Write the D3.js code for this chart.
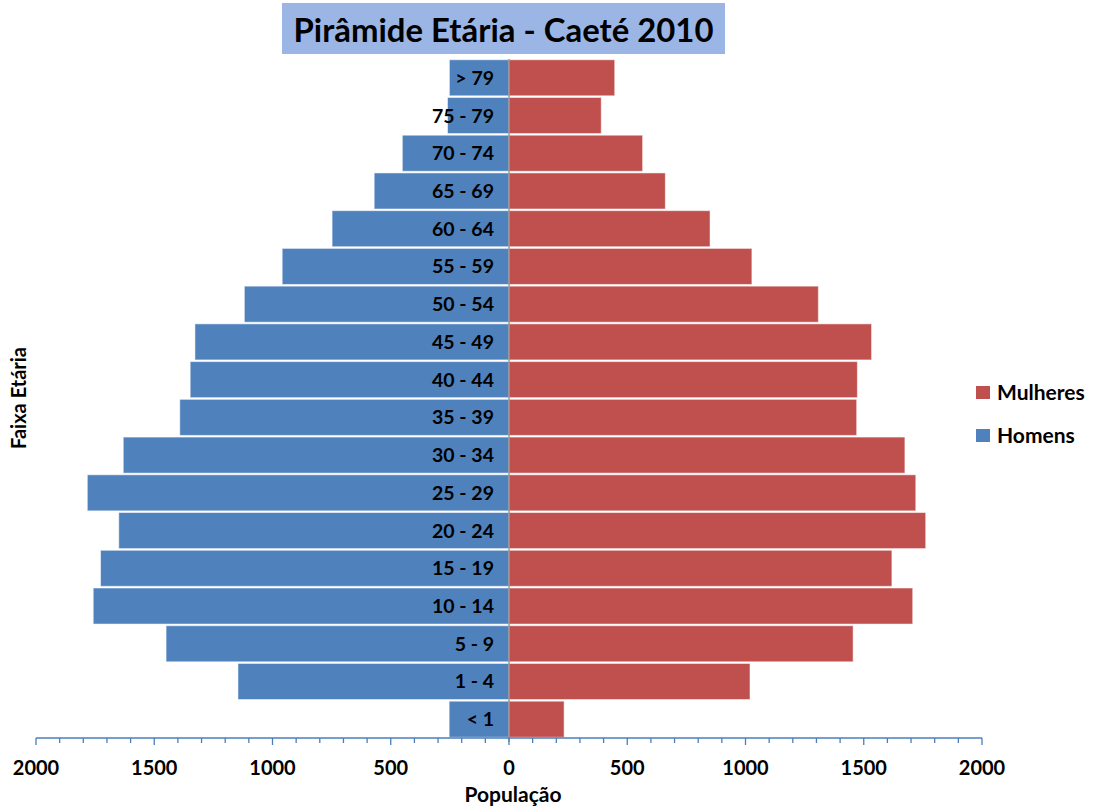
<!DOCTYPE html>
<html><head><meta charset="utf-8">
<script src="https://cdn.jsdelivr.net/npm/d3@7"></script>
<style>
html,body{margin:0;padding:0;background:#fff;}
svg{display:block;font-family:Lato,"Open Sans",sans-serif;font-weight:bold;}
</style></head>
<body>
<svg id="c" width="1100" height="808"></svg>
<script>
const categories = ["< 1","1 - 4","5 - 9","10 - 14","15 - 19","20 - 24","25 - 29","30 - 34","35 - 39","40 - 44","45 - 49","50 - 54","55 - 59","60 - 64","65 - 69","70 - 74","75 - 79","> 79"];
const homens   = [253,1146,1450,1758,1727,1650,1783,1631,1392,1348,1328,1119,959,748,570,451,260,252];
const mulheres = [233,1019,1455,1707,1619,1762,1720,1674,1470,1473,1533,1308,1027,850,661,565,390,447];
const xTicks = [-2000,-1500,-1000,-500,0,500,1000,1500,2000];
const seriesNames = ["Mulheres","Homens"];

const svg = d3.select("#c");
const blue = "#4f81bd", red = "#c0504d";

const x = d3.scaleLinear().domain([-2000,2000]).range([36,982]);
const y = d3.scaleBand().domain(categories.slice().reverse()).range([59,738]).paddingInner(0.045).paddingOuter(0.02);

// title
svg.append("rect").attr("x",282).attr("y",3).attr("width",443).attr("height",51).attr("fill","#9bb6e4");
const title = svg.append("text").attr("x",503.5).attr("y",42).attr("text-anchor","middle")
  .attr("font-size",32).attr("fill","#000").text("Pirâmide Etária - Caeté 2010");
{ const w = title.node().getComputedTextLength(); title.attr("font-size", 32*420/w); }

// bars
const rows = categories.map((c,i)=>({c, h:homens[i], m:mulheres[i]}));
svg.append("g").selectAll("rect").data(rows).join("rect")
  .attr("x",d=>x(-d.h)).attr("y",d=>y(d.c)).attr("width",d=>x(0)-x(-d.h)).attr("height",y.bandwidth())
  .attr("fill",blue).attr("stroke","#ffffff").attr("stroke-opacity",0.5).attr("stroke-width",1);
svg.append("g").selectAll("rect").data(rows).join("rect")
  .attr("x",x(0)).attr("y",d=>y(d.c)).attr("width",d=>x(d.m)-x(0)).attr("height",y.bandwidth())
  .attr("fill",red).attr("stroke","#ffffff").attr("stroke-opacity",0.5).attr("stroke-width",1);

// zero line
svg.append("line").attr("x1",x(0)).attr("x2",x(0)).attr("y1",59).attr("y2",742)
  .attr("stroke","#8c8c8c").attr("stroke-width",1.3);

// category labels
svg.append("g").selectAll("text").data(rows).join("text")
  .attr("x",494).attr("y",d=>y(d.c)+y.bandwidth()/2+7).attr("text-anchor","end")
  .attr("font-size",19.5).attr("fill","#000").text(d=>d.c);

// x axis
const ax = svg.append("g").attr("transform","translate(0,738)");
const minor = d3.range(-2000,2001,100);
ax.append("line").attr("x1",x(-2000)).attr("x2",x(2000)).attr("stroke","#4a7ebb").attr("stroke-width",1.5);
ax.selectAll("line.t").data(minor).join("line").attr("class","t")
  .attr("x1",d=>x(d)).attr("x2",d=>x(d)).attr("y1",0).attr("y2",d=>d%500===0?7:5)
  .attr("stroke","#4a7ebb").attr("stroke-width",1.3);
ax.selectAll("text").data(xTicks).join("text")
  .attr("x",d=>x(d)).attr("y",37).attr("text-anchor","middle").attr("font-size",20).attr("fill","#000")
  .text(d=>Math.abs(d));
svg.append("text").attr("x",513).attr("y",802).attr("text-anchor","middle").attr("font-size",21).attr("fill","#000").text("População");

// y title
svg.append("text").attr("transform","translate(26,398) rotate(-90)").attr("text-anchor","middle")
  .attr("font-size",20).attr("fill","#000").text("Faixa Etária");

// legend
const lg = svg.append("g").selectAll("g").data(seriesNames).join("g")
  .attr("transform",(d,i)=>`translate(976,${386+i*43})`);
lg.append("rect").attr("width",14).attr("height",13).attr("fill",(d,i)=>i===0?red:blue);
lg.append("text").attr("x",21).attr("y",14).attr("font-size",21).attr("fill","#000").text(d=>d);
</script>
</body></html>
